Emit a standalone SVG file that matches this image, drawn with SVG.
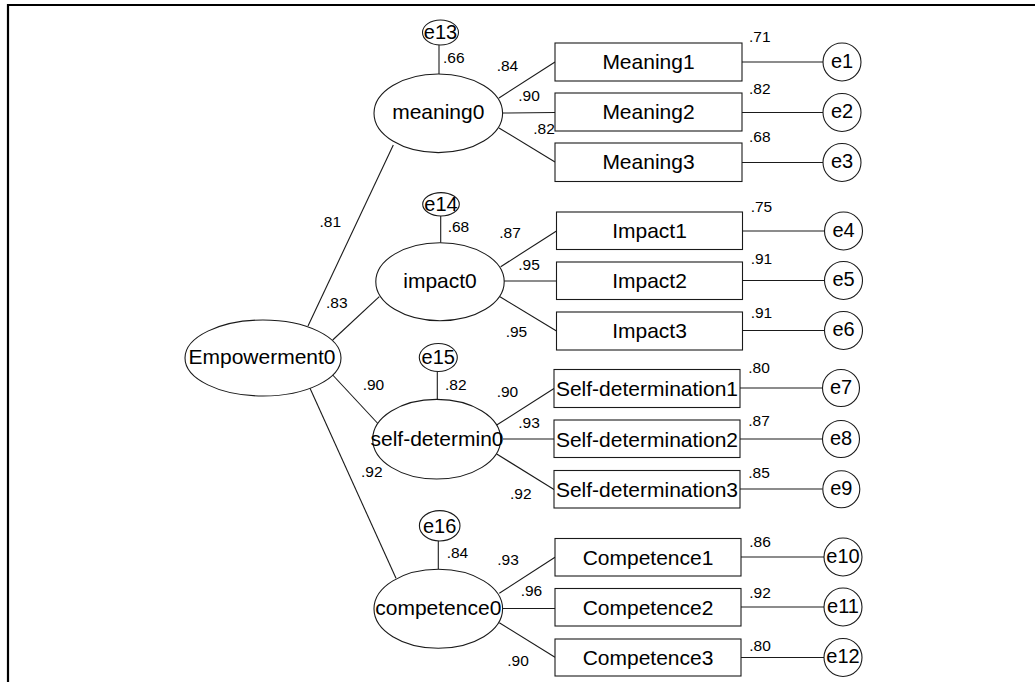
<svg xmlns="http://www.w3.org/2000/svg" width="1035" height="682" viewBox="0 0 1035 682">
  <style>
    .frame { stroke: #000; stroke-width: 2.2; fill: none; }
    .shape { fill: #fff; stroke: #1a1a1a; stroke-width: 1.1; }
    .link { stroke: #1a1a1a; stroke-width: 1.1; fill: none; }
    .lbl { font-family: "Liberation Sans", Arial, sans-serif; font-size: 21px; fill: #000; text-anchor: middle; }
    .elbl { font-family: "Liberation Sans", Arial, sans-serif; font-size: 20px; fill: #000; text-anchor: middle; }
    .num { font-family: "Liberation Sans", Arial, sans-serif; font-size: 15.5px; fill: #000; }
  </style>
  <rect width="1035" height="682" fill="#fff"/>
  <!-- page frame: top and left rules -->
  <line class="frame" x1="7" y1="5" x2="1035" y2="5"/>
  <line class="frame" x1="8" y1="4" x2="8" y2="682"/>

  <g id="connectors">
    <!-- second-order paths -->
    <line class="link" x1="308" y1="326" x2="393.3" y2="145"/>
    <line class="link" x1="332.7" y1="340" x2="379.3" y2="296.7"/>
    <line class="link" x1="332.7" y1="375" x2="378.3" y2="424"/>
    <line class="link" x1="310" y1="388.3" x2="396" y2="578.3"/>
    <!-- disturbances -->
    <line class="link" x1="439" y1="45" x2="439" y2="74"/>
    <line class="link" x1="440.7" y1="216" x2="440.7" y2="242.7"/>
    <line class="link" x1="437.3" y1="371.5" x2="437.3" y2="399.5"/>
    <line class="link" x1="438.3" y1="541" x2="438.3" y2="569.3"/>
    <!-- meaning loadings -->
    <line class="link" x1="499" y1="98" x2="555" y2="62"/>
    <line class="link" x1="502.5" y1="113" x2="555" y2="112.5"/>
    <line class="link" x1="499" y1="128" x2="555" y2="162"/>
    <!-- impact loadings -->
    <line class="link" x1="500.7" y1="266.7" x2="556.5" y2="231"/>
    <line class="link" x1="504" y1="281" x2="556.5" y2="281"/>
    <line class="link" x1="500" y1="296.7" x2="556.5" y2="331"/>
    <!-- self-determination loadings -->
    <line class="link" x1="496.7" y1="425" x2="554" y2="388.5"/>
    <line class="link" x1="503" y1="439" x2="554" y2="439"/>
    <line class="link" x1="496.7" y1="454" x2="554" y2="489.5"/>
    <!-- competence loadings -->
    <line class="link" x1="499.3" y1="593.3" x2="555" y2="557.3"/>
    <line class="link" x1="502.7" y1="608.5" x2="555" y2="608.5"/>
    <line class="link" x1="499.3" y1="622.7" x2="555" y2="657.3"/>
    <!-- measurement errors -->
    <line class="link" x1="742" y1="62" x2="823" y2="62"/>
    <line class="link" x1="742" y1="112.5" x2="823" y2="112.5"/>
    <line class="link" x1="742" y1="162.5" x2="823" y2="162.5"/>
    <line class="link" x1="742.5" y1="231" x2="824.5" y2="231"/>
    <line class="link" x1="742.5" y1="280.5" x2="824.5" y2="280.5"/>
    <line class="link" x1="742.5" y1="330.5" x2="824.5" y2="330.5"/>
    <line class="link" x1="740" y1="388" x2="822.5" y2="388"/>
    <line class="link" x1="740" y1="439" x2="822.5" y2="439"/>
    <line class="link" x1="740" y1="489" x2="822.5" y2="489"/>
    <line class="link" x1="741" y1="557" x2="824" y2="557"/>
    <line class="link" x1="741" y1="607" x2="824" y2="607"/>
    <line class="link" x1="741" y1="657.5" x2="824" y2="657.5"/>
  </g>

  <!-- coefficients -->
  <g id="estimates">
    <text class="num" x="319.5" y="226.5">.81</text>
    <text class="num" x="326" y="308">.83</text>
    <text class="num" x="362.7" y="390">.90</text>
    <text class="num" x="361" y="476.7">.92</text>
    <text class="num" x="443" y="63">.66</text>
    <text class="num" x="496.7" y="70.5">.84</text>
    <text class="num" x="518.3" y="100.5">.90</text>
    <text class="num" x="533.3" y="134">.82</text>
    <text class="num" x="749" y="41.7">.71</text>
    <text class="num" x="749" y="94">.82</text>
    <text class="num" x="749" y="142">.68</text>
    <text class="num" x="447.7" y="231.7">.68</text>
    <text class="num" x="499.3" y="238">.87</text>
    <text class="num" x="518.3" y="270">.95</text>
    <text class="num" x="505.7" y="337">.95</text>
    <text class="num" x="750.7" y="211.7">.75</text>
    <text class="num" x="750.7" y="264">.91</text>
    <text class="num" x="750.7" y="318">.91</text>
    <text class="num" x="445" y="390">.82</text>
    <text class="num" x="496.7" y="396.7">.90</text>
    <text class="num" x="518.3" y="428">.93</text>
    <text class="num" x="510" y="499.3">.92</text>
    <text class="num" x="748.3" y="372.7">.80</text>
    <text class="num" x="748.3" y="426">.87</text>
    <text class="num" x="748.3" y="478.3">.85</text>
    <text class="num" x="446.7" y="558.3">.84</text>
    <text class="num" x="497.3" y="565">.93</text>
    <text class="num" x="520.7" y="596">.96</text>
    <text class="num" x="507.3" y="666">.90</text>
    <text class="num" x="749.3" y="546.7">.86</text>
    <text class="num" x="749.3" y="598.3">.92</text>
    <text class="num" x="749.3" y="650.7">.80</text>
  </g>

  <!-- latent variables -->
  <g id="Empowerment0"><ellipse class="shape" cx="263" cy="358" rx="78" ry="38"/><text class="lbl" x="262" y="364">Empowerment0</text></g>
  <g id="meaning0"><ellipse class="shape" cx="438.3" cy="113.3" rx="64.3" ry="39.3"/><text class="lbl" x="438.3" y="119.3">meaning0</text></g>
  <g id="impact0"><ellipse class="shape" cx="440" cy="281.7" rx="64.2" ry="39"/><text class="lbl" x="440" y="287.5">impact0</text></g>
  <g id="self-determin0"><ellipse class="shape" cx="436.7" cy="439.2" rx="64" ry="39.8"/><text class="lbl" x="437" y="446">self-determin0</text></g>
  <g id="competence0"><ellipse class="shape" cx="438.3" cy="608.8" rx="64.3" ry="39.5"/><text class="lbl" x="438.3" y="614.5">competence0</text></g>

  <!-- disturbance terms -->
  <g id="e13"><ellipse class="shape" cx="440.5" cy="32.5" rx="18" ry="12.5"/><text class="elbl" x="440.5" y="38.5">e13</text></g>
  <g id="e14"><ellipse class="shape" cx="441" cy="204.3" rx="18.3" ry="11.7"/><text class="elbl" x="441" y="210.5">e14</text></g>
  <g id="e15"><ellipse class="shape" cx="438.3" cy="357.5" rx="19" ry="14"/><text class="elbl" x="438.3" y="364">e15</text></g>
  <g id="e16"><ellipse class="shape" cx="439.7" cy="525.8" rx="20.3" ry="15.2"/><text class="elbl" x="439.7" y="532.5">e16</text></g>

  <!-- observed indicators -->
  <g id="Meaning1"><rect class="shape" x="555" y="43" width="187" height="38"/><text class="lbl" x="648.5" y="69">Meaning1</text></g>
  <g id="Meaning2"><rect class="shape" x="555" y="93" width="187" height="38"/><text class="lbl" x="648.5" y="119">Meaning2</text></g>
  <g id="Meaning3"><rect class="shape" x="555" y="143" width="187" height="38.5"/><text class="lbl" x="648.5" y="169">Meaning3</text></g>
  <g id="Impact1"><rect class="shape" x="556.5" y="212" width="186" height="37.5"/><text class="lbl" x="649.5" y="238">Impact1</text></g>
  <g id="Impact2"><rect class="shape" x="556.5" y="262" width="186" height="37.5"/><text class="lbl" x="649.5" y="288">Impact2</text></g>
  <g id="Impact3"><rect class="shape" x="556.5" y="312" width="186" height="38"/><text class="lbl" x="649.5" y="338">Impact3</text></g>
  <g id="Self-determination1"><rect class="shape" x="554" y="369.5" width="186" height="38"/><text class="lbl" x="647" y="396">Self-determination1</text></g>
  <g id="Self-determination2"><rect class="shape" x="554" y="420" width="186" height="37.5"/><text class="lbl" x="647" y="446.5">Self-determination2</text></g>
  <g id="Self-determination3"><rect class="shape" x="554" y="470.5" width="186" height="37.5"/><text class="lbl" x="647" y="497">Self-determination3</text></g>
  <g id="Competence1"><rect class="shape" x="555" y="538.5" width="186" height="37.5"/><text class="lbl" x="648" y="564.5">Competence1</text></g>
  <g id="Competence2"><rect class="shape" x="555" y="588.5" width="186" height="37.5"/><text class="lbl" x="648" y="614.5">Competence2</text></g>
  <g id="Competence3"><rect class="shape" x="555" y="639" width="186" height="37"/><text class="lbl" x="648" y="665">Competence3</text></g>

  <!-- measurement error terms -->
  <g id="e1"><circle class="shape" cx="842" cy="62" r="19"/><text class="elbl" x="842" y="67.5">e1</text></g>
  <g id="e2"><circle class="shape" cx="842" cy="112.5" r="19"/><text class="elbl" x="842" y="118">e2</text></g>
  <g id="e3"><circle class="shape" cx="842" cy="162.5" r="19"/><text class="elbl" x="842" y="168">e3</text></g>
  <g id="e4"><circle class="shape" cx="843.5" cy="231" r="19"/><text class="elbl" x="843.5" y="236.5">e4</text></g>
  <g id="e5"><circle class="shape" cx="843.5" cy="280.5" r="19"/><text class="elbl" x="843.5" y="286">e5</text></g>
  <g id="e6"><circle class="shape" cx="843.5" cy="330.5" r="19"/><text class="elbl" x="843.5" y="336">e6</text></g>
  <g id="e7"><circle class="shape" cx="841" cy="388" r="18.5"/><text class="elbl" x="841" y="393.5">e7</text></g>
  <g id="e8"><circle class="shape" cx="841" cy="439" r="18.5"/><text class="elbl" x="841" y="444.5">e8</text></g>
  <g id="e9"><circle class="shape" cx="841.3" cy="489.2" r="18.5"/><text class="elbl" x="841.3" y="494.7">e9</text></g>
  <g id="e10"><circle class="shape" cx="843" cy="557" r="19"/><text class="elbl" x="843" y="562.5">e10</text></g>
  <g id="e11"><circle class="shape" cx="843" cy="607" r="19"/><text class="elbl" x="843" y="612.5">e11</text></g>
  <g id="e12"><circle class="shape" cx="843" cy="657.5" r="19"/><text class="elbl" x="843" y="663">e12</text></g>
</svg>
